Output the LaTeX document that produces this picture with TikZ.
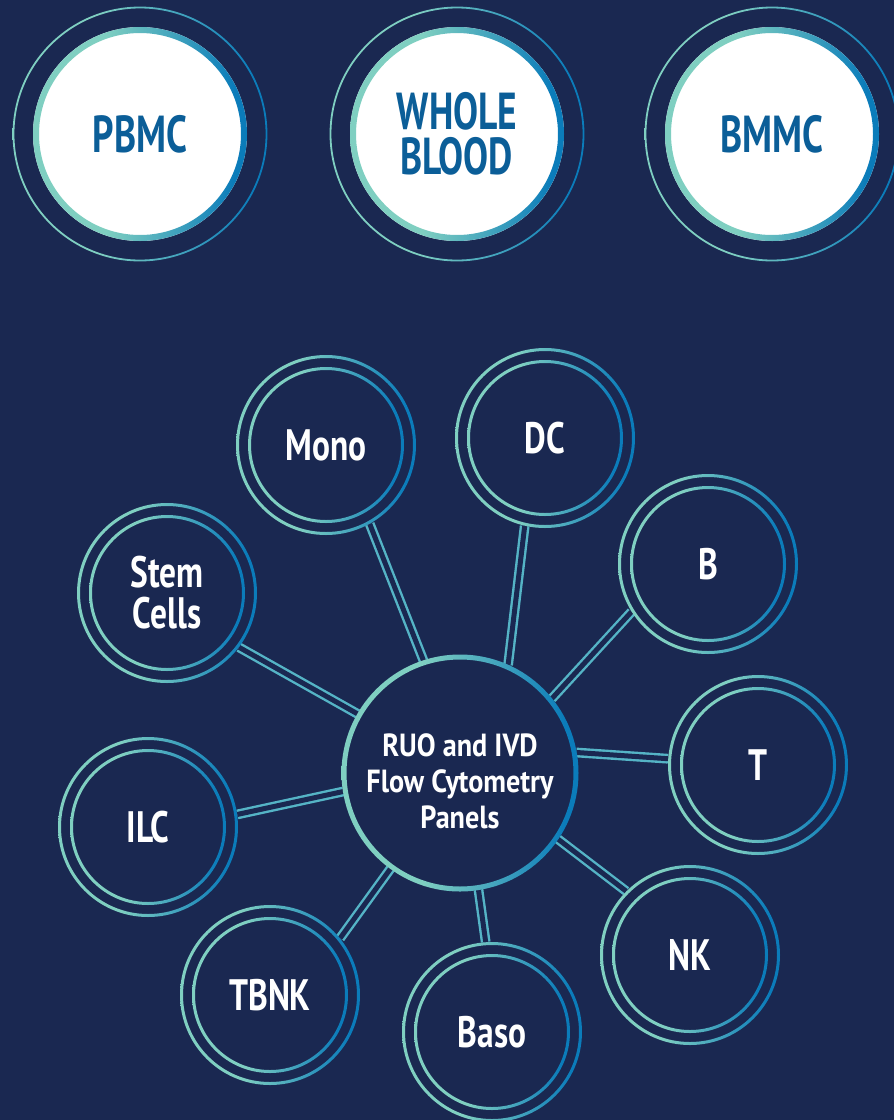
\documentclass[tikz,border=0pt]{standalone}
\usepackage{fontspec}
\setmainfont{PT Sans}[FakeStretch=0.76]
\newfontfamily\hubfont{PT Sans}[FakeStretch=0.88]
\newfontfamily\srcfont{PT Sans}[FakeStretch=0.72]
\definecolor{bg}{HTML}{1A2851}
\definecolor{tl}{HTML}{7FCFC1}
\definecolor{bl}{HTML}{0B7CBA}
\definecolor{dk}{HTML}{0B5E98}
\definecolor{cn}{HTML}{55B4C6}
\pgfdeclarehorizontalshading{ringsh}{100bp}{color(0bp)=(tl); color(42bp)=(tl); color(72bp)=(bl); color(100bp)=(bl)}
\newcommand{\myring}[3]{\shade[shading=ringsh, even odd rule] (#1) circle[radius=#2+#3/2] circle[radius=#2-#3/2];}
\begin{document}
\begin{tikzpicture}[x=1pt,y=-1pt,
  sat/.style={circle, minimum size=180pt, inner sep=0pt, fill=bg, text=white, align=center, font=\bfseries\fontsize{44}{41}\selectfont},
  src/.style={circle, minimum size=214pt, inner sep=0pt, fill=white, text=dk, align=center, font=\srcfont\bfseries\fontsize{52}{45}\selectfont},
  hubst/.style={circle, minimum size=236pt, inner sep=0pt, fill=bg},
  hubtext/.style={text=white, align=center, yshift=-8pt, font=\hubfont\bfseries\fontsize{32}{36}\selectfont},
  link/.style={draw=cn, line width=2.4pt, double=bg, double distance=5pt}]
\fill[bg] (0,0) rectangle (894,1120);
\useasboundingbox (0,0) rectangle (894,1120);

% source circles
\node[src] (pbmc) at (140,134) {PBMC};
\node[src] (wb) at (457,134) {WHOLE\\BLOOD};
\node[src] (bmmc) at (772,134) {BMMC};
\foreach \n in {pbmc,wb,bmmc}{
  \myring{\n.center}{126.5}{1.8}
  \myring{\n.center}{104}{6}
}

% hub and satellites
\node[hubst, label={[hubtext]center:{RUO and IVD\\Flow Cytometry\\Panels}}] (hub) at (460,773) {};
\node[sat] (mono) at (326,445) {Mono};
\node[sat] (dc) at (545,438) {DC};
\node[sat] (b) at (708,564) {B};
\node[sat] (t) at (758,765) {T};
\node[sat] (nk) at (690,955) {NK};
\node[sat] (baso) at (492,1032) {Baso};
\node[sat] (tbnk) at (270,995) {TBNK};
\node[sat] (ilc) at (148,827) {ILC};
\node[sat] (stem) at (167,593) {Stem\\Cells};

% connectors
\draw[link] (mono.-61) -- (hub.108);
\draw[link] (dc.-103) -- (hub.66);
\draw[link] (b.-148) -- (hub.39);
\draw[link] (t.176) -- (hub.10);
\draw[link] (nk.135) -- (hub.-34);
\draw[link] (baso.94) -- (hub.-81);
\draw[link] (tbnk.39) -- (hub.-126);
\draw[link] (ilc.8) -- (hub.-171);
\draw[link] (stem.-37) -- (hub.150);

% rings
\myring{hub.center}{116}{5}
\foreach \n in {mono,dc,b,t,nk,baso,tbnk,ilc,stem}{
  \myring{\n.center}{88.5}{3}
  \myring{\n.center}{76.5}{3}
}
\end{tikzpicture}
\end{document}
